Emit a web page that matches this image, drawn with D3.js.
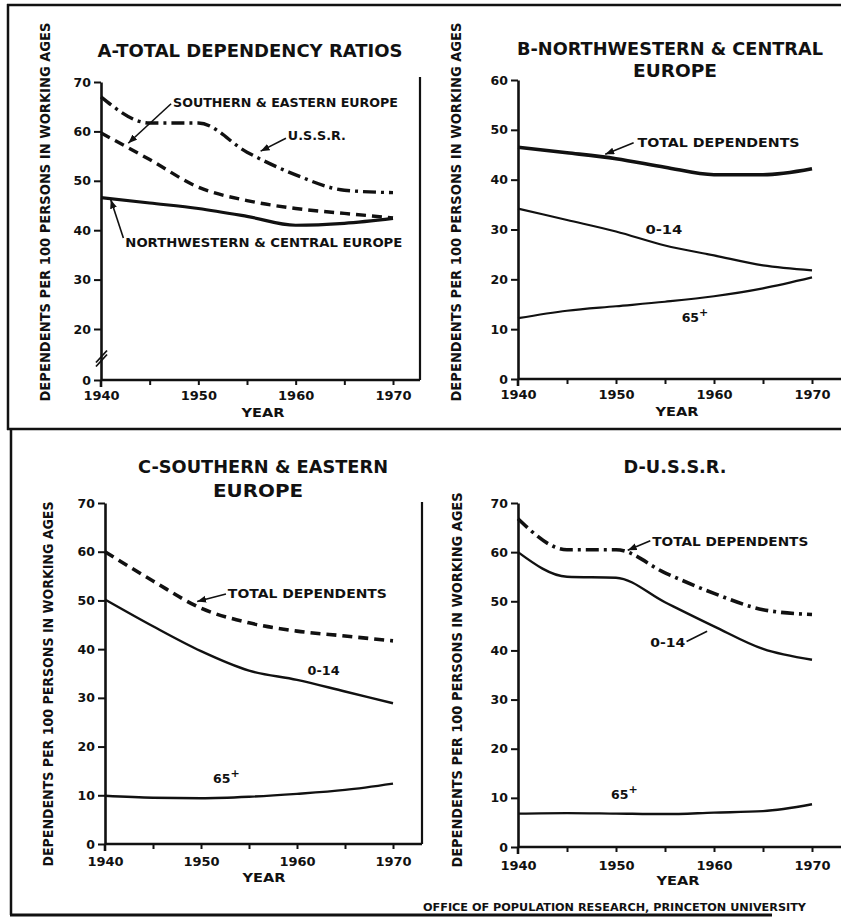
<!DOCTYPE html>
<html><head><meta charset="utf-8">
<script src="https://cdn.jsdelivr.net/npm/d3@7"></script>
<style>
html,body{margin:0;padding:0;background:#fff;}
svg{display:block;}
text{font-family:"DejaVu Sans","Liberation Sans",sans-serif;font-weight:bold;fill:#111;}
</style></head><body>
<svg id="chart" width="841" height="921"></svg>
<script>
// ---------- DATA ----------
const years = [1940, 1945, 1950, 1955, 1960, 1965, 1970];
const xTickValues = [1940, 1945, 1950, 1955, 1960, 1965, 1970];
const xTickLabels = ["1940", "1950", "1960", "1970"];

// Panel A - total dependency ratios (as drawn in panel A)
const aNorthwestTotal = [46.6, 45.5, 44.4, 42.8, 41.0, 41.4, 42.4];
const aSoutheastTotal = [59.7, 54.3, 48.7, 46.0, 44.4, 43.4, 42.5];
const aUssrTotal      = [67.0, 61.7, 61.7, 55.8, 51.2, 48.1, 47.6];
const aYTicks = [0, 20, 30, 40, 50, 60, 70];

// Panel B - Northwestern & Central Europe
const bTotal = [46.5, 45.4, 44.2, 42.5, 41.0, 41.0, 42.2];
const b0to14 = [34.2, 31.9, 29.6, 26.8, 24.8, 22.8, 21.8];
const b65plus = [12.2, 13.7, 14.6, 15.5, 16.6, 18.2, 20.4];
const bYTicks = [0, 10, 20, 30, 40, 50, 60];

// Panel C - Southern & Eastern Europe
const cTotal = [60.0, 54.0, 48.4, 45.4, 43.7, 42.7, 41.7];
const c0to14 = [50.2, 44.7, 39.6, 35.6, 33.7, 31.3, 28.9];
const c65plus = [9.9, 9.5, 9.4, 9.7, 10.3, 11.1, 12.4];
const cYTicks = [0, 10, 20, 30, 40, 50, 60, 70];

// Panel D - U.S.S.R.
const dTotal = [66.8, 60.5, 60.5, 55.8, 51.6, 48.3, 47.3];
const d0to14 = [60.0, 55.0, 54.8, 49.8, 44.9, 40.3, 38.1];
const d65plus = [6.8, 6.9, 6.8, 6.7, 7.0, 7.3, 8.7];
const dYTicks = [0, 10, 20, 30, 40, 50, 60, 70];

// ---------- DRAWING ----------
const svg = d3.select("#chart");
const ink = "#111";

svg.append("rect").attr("width", 841).attr("height", 921).attr("fill", "#fff");

const defs = svg.append("defs");
defs.append("marker").attr("id", "arrow")
  .attr("markerUnits", "userSpaceOnUse")
  .attr("markerWidth", 10).attr("markerHeight", 8)
  .attr("refX", 9).attr("refY", 3.5).attr("orient", "auto")
  .append("path").attr("d", "M0,0 L9,3.5 L0,7 Z").attr("fill", ink);

// frame lines (layout)
const frame = svg.append("g").attr("stroke", ink).attr("fill", "none").attr("stroke-width", 2.5);
frame.append("line").attr("x1", 7).attr("y1", 5).attr("x2", 841).attr("y2", 5);
frame.append("line").attr("x1", 8).attr("y1", 4).attr("x2", 8).attr("y2", 430);
frame.append("line").attr("x1", 7).attr("y1", 429).attr("x2", 841).attr("y2", 429);
frame.append("line").attr("x1", 11).attr("y1", 428).attr("x2", 11).attr("y2", 915);
frame.append("line").attr("x1", 10).attr("y1", 915).attr("x2", 772).attr("y2", 915).attr("stroke-width", 2.8);

function makePanel(cfg) {
  const g = svg.append("g");
  const x = d3.scaleLinear().domain([1940, 1970]).range([cfg.x0, cfg.x1]);
  const y = d3.scaleLinear().domain(cfg.yDomain).range(cfg.yRange);

  // y axis
  const ya = g.append("g").attr("transform", `translate(${cfg.x0},0)`)
    .call(d3.axisLeft(y).tickValues(cfg.yTicks).tickSize(7).tickSizeOuter(0).tickPadding(3)
      .tickFormat(d3.format("d")));
  ya.select(".domain").attr("stroke", ink).attr("stroke-width", 2.6);
  ya.selectAll(".tick line").attr("stroke", ink).attr("stroke-width", 2);
  ya.selectAll(".tick text").attr("font-size", 12.5).attr("font-family", "DejaVu Sans").attr("font-weight", "bold").attr("fill", ink);
  // extend y axis slightly below x axis
  g.append("line").attr("x1", cfg.x0).attr("x2", cfg.x0)
    .attr("y1", y(cfg.yDomain[0])).attr("y2", y(cfg.yDomain[0]) + 7)
    .attr("stroke", ink).attr("stroke-width", 2.6);

  // x axis
  const y0 = y(cfg.yDomain[0]);
  g.append("line").attr("x1", cfg.x0).attr("x2", cfg.axisEnd).attr("y1", y0).attr("y2", y0)
    .attr("stroke", ink).attr("stroke-width", 2.6);
  const xa = g.append("g").attr("transform", `translate(0,${y0})`)
    .call(d3.axisBottom(x).tickValues(xTickValues).tickSize(5).tickPadding(cfg.xPad)
      .tickFormat(d => xTickLabels.includes(String(d)) ? String(d) : ""));
  xa.select(".domain").remove();
  xa.selectAll(".tick line").attr("stroke", ink).attr("stroke-width", 2);
  xa.selectAll(".tick").filter(d => d === 1940).select("line").remove();
  xa.selectAll(".tick text").attr("font-size", 13).attr("font-family", "DejaVu Sans").attr("font-weight", "bold").attr("fill", ink);

  // YEAR label
  g.append("text").attr("x", cfg.yearX).attr("y", cfg.yearY).attr("text-anchor", "middle")
    .attr("font-size", 12.5).attr("textLength", 43).attr("lengthAdjust", "spacingAndGlyphs").text("YEAR");

  // y axis title
  g.append("text").attr("transform", `translate(${cfg.ylabX},${cfg.ylabC}) rotate(-90)`)
    .attr("text-anchor", "middle").attr("font-size", 13.5)
    .attr("textLength", cfg.ylabLen).attr("lengthAdjust", "spacingAndGlyphs")
    .text("DEPENDENTS  PER 100 PERSONS  IN WORKING AGES");

  // titles
  cfg.titles.forEach(t => {
    g.append("text").attr("x", t.x).attr("y", t.y).attr("text-anchor", "middle")
      .attr("font-size", 18).attr("font-weight", "bold")
      .attr("textLength", t.len).attr("lengthAdjust", "spacingAndGlyphs").text(t.text);
  });

  // series
  const line = d3.line().x((d, i) => x(years[i])).y(d => y(d)).curve(d3.curveMonotoneX);
  cfg.series.forEach(s => {
    g.append("path").datum(s.values).attr("d", line)
      .attr("fill", "none").attr("stroke", ink).attr("stroke-width", s.w)
      .attr("stroke-dasharray", s.dash || null).attr("stroke-linejoin", "round");
  });

  // annotations (positioned in data units)
  cfg.labels.forEach(l => {
    const t = g.append("text").attr("x", x(l.yr)).attr("y", y(l.v))
      .attr("font-size", 12.5);
    if (l.len) t.attr("textLength", l.len).attr("lengthAdjust", "spacingAndGlyphs");
    if (l.sup) {
      t.text(l.text);
      t.append("tspan").attr("dy", -6).attr("font-size", 11).text(l.sup);
    } else t.text(l.text);
  });
  cfg.arrows.forEach(a => {
    g.append("line").attr("x1", x(a.from[0])).attr("y1", y(a.from[1]))
      .attr("x2", x(a.to[0])).attr("y2", y(a.to[1]))
      .attr("stroke", ink).attr("stroke-width", 1.6)
      .attr("marker-end", a.head === false ? null : "url(#arrow)");
  });
  return {g, x, y};
}

// Panel A
const pA = makePanel({
  x0: 101, x1: 393, axisEnd: 420, yDomain: [0, 20, 70], yRange: [380, 329, 82], yTicks: aYTicks, xPad: 6,
  yearX: 263, yearY: 417, ylabX: 50, ylabC: 212, ylabLen: 379,
  titles: [{text: "A-TOTAL DEPENDENCY RATIOS", x: 250, y: 57, len: 305}],
  series: [
    {values: aNorthwestTotal, w: 3.2},
    {values: aSoutheastTotal, w: 3.4, dash: "10 6"},
    {values: aUssrTotal, w: 3.4, dash: "13 5 3 5"}
  ],
  labels: [
    {text: "SOUTHERN & EASTERN EUROPE", yr: 1947.4, v: 64.9, len: 225},
    {text: "U.S.S.R.", yr: 1959.2, v: 58.3, len: 58},
    {text: "NORTHWESTERN & CENTRAL EUROPE", yr: 1942.5, v: 36.6, len: 277}
  ],
  arrows: [
    {from: [1947.2, 65.6], to: [1942.8, 57.6]},
    {from: [1959.0, 58.6], to: [1956.4, 56.0]},
    {from: [1942.3, 38.4], to: [1941.0, 46.2]}
  ]
});
// right frame of panel A
svg.append("line").attr("x1", 420).attr("x2", 420).attr("y1", 77).attr("y2", pA.y(0))
  .attr("stroke", ink).attr("stroke-width", 2.2);
// axis break marks
{
  const m = (pA.y(0) + pA.y(20)) / 2 + 2;
  [0, 4].forEach(o => {
    svg.append("line").attr("x1", 96).attr("y1", m + 6 + o).attr("x2", 107).attr("y2", m - 6 + o)
      .attr("stroke", ink).attr("stroke-width", 1.8);
  });
}

// Panel B
makePanel({
  x0: 518, x1: 812, axisEnd: 841, yDomain: [0, 60], yRange: [379, 80], yTicks: bYTicks, xPad: 6,
  yearX: 677, yearY: 416, ylabX: 461, ylabC: 212, ylabLen: 379,
  titles: [{text: "B-NORTHWESTERN & CENTRAL", x: 670, y: 55, len: 306},
           {text: "EUROPE", x: 675, y: 77, len: 84}],
  series: [
    {values: bTotal, w: 3.6},
    {values: b0to14, w: 2.2},
    {values: b65plus, w: 2.2}
  ],
  labels: [
    {text: "TOTAL DEPENDENTS", yr: 1952.2, v: 46.6, len: 162},
    {text: "0-14", yr: 1953.0, v: 29.1, len: 37},
    {text: "65", sup: "+", yr: 1956.7, v: 11.4}
  ],
  arrows: [{from: [1951.8, 47.4], to: [1948.9, 45.1]}]
});

// Panel C
const pC = makePanel({
  x0: 105, x1: 393, axisEnd: 422, yDomain: [0, 70], yRange: [844, 503], yTicks: cYTicks, xPad: 8,
  yearX: 264, yearY: 882, ylabX: 53, ylabC: 684, ylabLen: 365,
  titles: [{text: "C-SOUTHERN & EASTERN", x: 263, y: 473, len: 250},
           {text: "EUROPE", x: 258, y: 497, len: 90}],
  series: [
    {values: cTotal, w: 3.6, dash: "10 6"},
    {values: c0to14, w: 2.4},
    {values: c65plus, w: 2.4}
  ],
  labels: [
    {text: "TOTAL DEPENDENTS", yr: 1952.8, v: 50.5, len: 159},
    {text: "0-14", yr: 1961.1, v: 34.7, len: 32},
    {text: "65", sup: "+", yr: 1951.25, v: 12.5}
  ],
  arrows: [{from: [1952.6, 51.3], to: [1949.6, 49.8]}]
});
svg.append("line").attr("x1", 422).attr("x2", 422).attr("y1", 502).attr("y2", pC.y(0))
  .attr("stroke", ink).attr("stroke-width", 2.2);

// Panel D
makePanel({
  x0: 518, x1: 812, axisEnd: 841, yDomain: [0, 70], yRange: [847, 503], yTicks: dYTicks, xPad: 9,
  yearX: 678, yearY: 885, ylabX: 462, ylabC: 680, ylabLen: 375,
  titles: [{text: "D-U.S.S.R.", x: 675, y: 473, len: 103}],
  series: [
    {values: dTotal, w: 3.6, dash: "13 5 3 5"},
    {values: d0to14, w: 2.4},
    {values: d65plus, w: 2.4}
  ],
  labels: [
    {text: "TOTAL DEPENDENTS", yr: 1953.7, v: 61.3, len: 156},
    {text: "0-14", yr: 1953.5, v: 40.7, len: 35},
    {text: "65", sup: "+", yr: 1949.5, v: 9.8}
  ],
  arrows: [
    {from: [1953.5, 62.3], to: [1951.2, 60.4]},
    {from: [1957.2, 41.8], to: [1959.3, 43.9], head: false}
  ]
});

// footer
svg.append("text").attr("x", 423).attr("y", 911).attr("font-size", 10.5)
  .attr("textLength", 383).attr("lengthAdjust", "spacingAndGlyphs")
  .text("OFFICE OF POPULATION RESEARCH, PRINCETON UNIVERSITY");
</script>
</body></html>
